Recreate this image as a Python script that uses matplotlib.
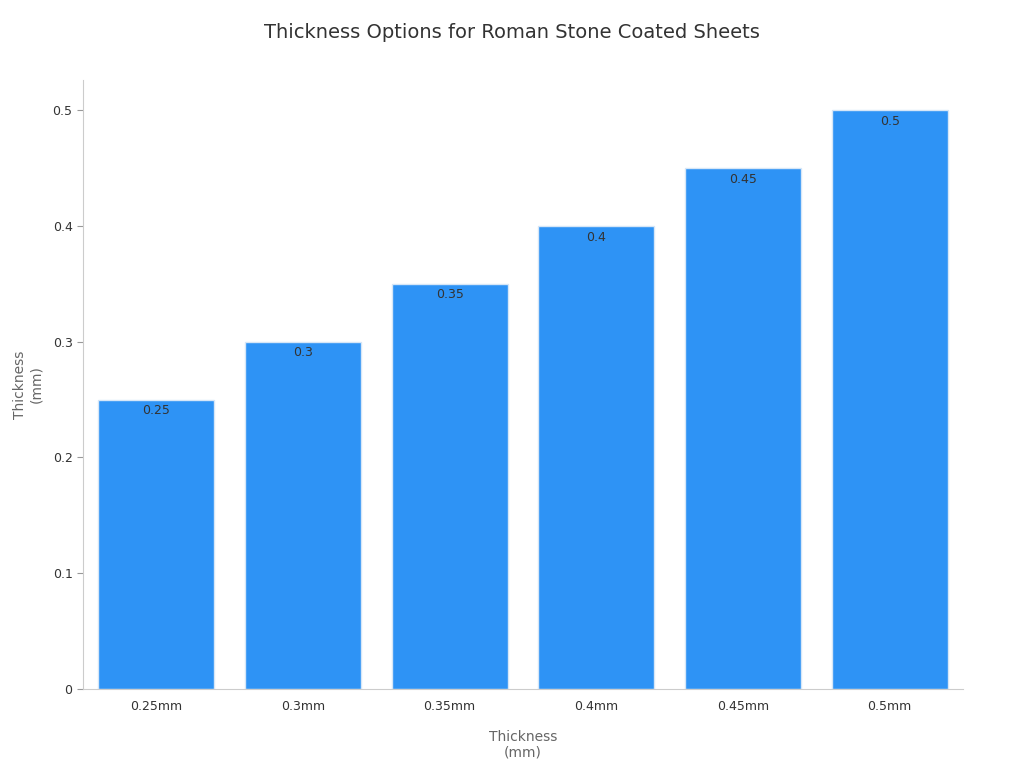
import matplotlib.pyplot as plt

categories = ["0.25mm", "0.3mm", "0.35mm", "0.4mm", "0.45mm", "0.5mm"]
values = [0.25, 0.3, 0.35, 0.4, 0.45, 0.5]

fig = plt.figure(figsize=(10.24, 7.68), dpi=100)
ax = fig.add_axes([83/1024, 1-689/768, 880/1024, 609/768])

x = range(len(categories))
bars = ax.bar(x, values, width=0.79, color="#2E93F5", edgecolor="#D6E6F7", linewidth=1)
for b, v in zip(bars, values):
    ax.text(b.get_x() + b.get_width()/2, v - 0.004, f"{v:g}", ha="center", va="top",
            fontsize=9, color="#333333")

ax.set_xlim(-0.5, 5.5)
ax.set_ylim(0, 0.526)
ax.set_xticks(list(x))
ax.set_xticklabels(categories)
ax.set_yticks([0, 0.1, 0.2, 0.3, 0.4, 0.5])
ax.set_yticklabels(["0", "0.1", "0.2", "0.3", "0.4", "0.5"])
ax.tick_params(labelsize=9, colors="#333333", length=4)
ax.tick_params(axis="x", length=0, pad=8)
for s in ["top", "right"]:
    ax.spines[s].set_visible(False)
for s in ["left", "bottom"]:
    ax.spines[s].set_color("#CCCCCC")
ax.tick_params(axis="y", color="#999999")

ax.set_xlabel("Thickness\n(mm)", fontsize=10, color="#666666", labelpad=12)
ax.set_ylabel("Thickness\n(mm)", fontsize=10, color="#666666")
ax.yaxis.set_label_coords(-0.045, 0.5)
fig.suptitle("Thickness Options for Roman Stone Coated Sheets", y=0.97, fontsize=14, color="#333333")

fig.savefig("out.png", dpi=100)
